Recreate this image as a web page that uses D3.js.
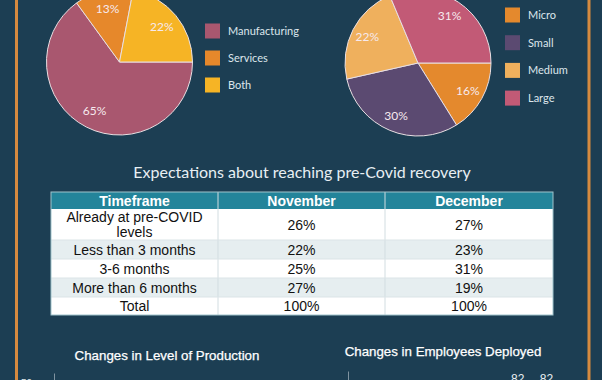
<!DOCTYPE html>
<html>
<head>
<meta charset="utf-8">
<script src="https://cdn.jsdelivr.net/npm/d3@7"></script>
<style>
html,body{margin:0;padding:0;background:#1c3e53;overflow:hidden;}
svg{display:block;}
</style>
</head>
<body>
<svg id="chart" width="602" height="380"></svg>
<script>
// ---- data ----
const sectorLabels = ["Manufacturing", "Services", "Both"];
const sectorValues = [65, 13, 22];
const sizeLabels = ["Micro", "Small", "Medium", "Large"];
const sizeValues = [16, 30, 22, 31];

const tableTitle = "Expectations about reaching pre-Covid recovery";
const tableHeader = ["Timeframe", "November", "December"];
const timeframes = ["Already at pre-COVID levels", "Less than 3 months", "3-6 months", "More than 6 months", "Total"];
const novemberShares = ["26%", "22%", "25%", "27%", "100%"];
const decemberShares = ["27%", "23%", "31%", "19%", "100%"];

const productionCategories = ["Increased", "Same", "Decreased"];
const productionNov = [30, 45, 25];
const productionDec = [32, 44, 24];
const yTickValues = [0, 10, 20, 30, 40, 50];

const employeeCategories = ["Increased", "Same", "Decreased"];
const employeeNov = [9, 9, 82];
const employeeDec = [8, 10, 82];

// ---- drawing ----
const svg = d3.select("#chart");
const BG = "#1c3e53";
svg.append("rect").attr("width", 602).attr("height", 380).attr("fill", BG);

// orange frame
svg.append("rect").attr("x", 16.5).attr("y", -20).attr("width", 572.5).attr("height", 440)
  .attr("fill", "none").attr("stroke", "#d68a3f").attr("stroke-width", 3);

function drawPie(cx, cy, r, labels, values, colors, labelR) {
  const g = svg.append("g").attr("transform", `translate(${cx},${cy})`);
  const pie = d3.pie().sort(null).value(d => d).startAngle(Math.PI / 2).endAngle(Math.PI / 2 + 2 * Math.PI);
  const arcs = pie(values);
  const arc = d3.arc().innerRadius(0).outerRadius(r);
  const lab = d3.arc().innerRadius(labelR).outerRadius(labelR);
  g.selectAll("path").data(arcs).join("path")
    .attr("d", arc).attr("fill", (d, i) => colors[i])
    .attr("stroke", "#e9dfe3").attr("stroke-width", 1);
  g.selectAll("text").data(arcs).join("text")
    .attr("transform", d => `translate(${lab.centroid(d)})`)
    .attr("text-anchor", "middle").attr("dy", "0.35em")
    .attr("font-family", "Lato, sans-serif").attr("font-size", 12)
    .attr("fill", "#f6e9ee")
    .text(d => d.data + "%");
}

function drawLegend(x, y0, step, labels, colors) {
  const g = svg.append("g");
  labels.forEach((l, i) => {
    const y = y0 + i * step;
    g.append("rect").attr("x", x).attr("y", y - 7.5).attr("width", 15).attr("height", 15).attr("fill", colors[i]);
    g.append("text").attr("x", x + 23).attr("y", y).attr("dy", "0.35em")
      .attr("font-family", "Lato, sans-serif").attr("font-size", 11).attr("fill", "#dde6ec").text(l);
  });
}

const sectorColors = ["#a9576f", "#e6882b", "#f6b425"];
const sizeColors = ["#e4892d", "#5b4a71", "#efb05d", "#c25a76"];
drawPie(119.5, 62, 73, sectorLabels, sectorValues, sectorColors, 55);
drawLegend(205, 31, 27, sectorLabels, sectorColors);
drawPie(418, 63, 73, sizeLabels, sizeValues, sizeColors, 57);
drawLegend(505, 15, 27.7, sizeLabels, sizeColors);

// table title
svg.append("text").attr("x", 302).attr("y", 178).attr("text-anchor", "middle")
  .attr("font-family", "Lato, sans-serif").attr("font-size", 16).attr("fill", "#e8eff3").text(tableTitle);

// table
const colEdges = [51, 218, 385, 553];
const rowEdges = [192, 209, 240, 259, 278, 297, 315];
const tg = svg.append("g");
tg.append("rect").attr("x", colEdges[0]).attr("y", rowEdges[0]).attr("width", colEdges[3] - colEdges[0])
  .attr("height", rowEdges[1] - rowEdges[0]).attr("fill", "#23849a");
const rows = timeframes.map((t, i) => [t, novemberShares[i], decemberShares[i]]);
rows.forEach((row, i) => {
  tg.append("rect").attr("x", colEdges[0]).attr("y", rowEdges[i + 1]).attr("width", colEdges[3] - colEdges[0])
    .attr("height", rowEdges[i + 2] - rowEdges[i + 1]).attr("fill", i % 2 === 0 ? "#ffffff" : "#e6eef0");
});
[1, 2].forEach(c => {
  tg.append("line").attr("x1", colEdges[c]).attr("x2", colEdges[c]).attr("y1", rowEdges[0]).attr("y2", rowEdges[6])
    .attr("stroke", "#d2dde1").attr("stroke-width", 1);
});
rowEdges.slice(2, 6).forEach(y => {
  tg.append("line").attr("x1", colEdges[0]).attr("x2", colEdges[3]).attr("y1", y).attr("y2", y)
    .attr("stroke", "#dbe4e7").attr("stroke-width", 1);
});
tg.append("rect").attr("x", colEdges[0]).attr("y", rowEdges[0]).attr("width", colEdges[3] - colEdges[0])
  .attr("height", rowEdges[6] - rowEdges[0]).attr("fill", "none").attr("stroke", "#9fc3cc").attr("stroke-width", 1);
tableHeader.forEach((h, c) => {
  tg.append("text").attr("x", (colEdges[c] + colEdges[c + 1]) / 2).attr("y", (rowEdges[0] + rowEdges[1]) / 2)
    .attr("dy", "0.36em").attr("text-anchor", "middle")
    .attr("font-family", "Liberation Sans, Arial, sans-serif").attr("font-weight", "bold").attr("font-size", 14)
    .attr("fill", "#ffffff").text(h);
});
rows.forEach((row, i) => {
  const yc = (rowEdges[i + 1] + rowEdges[i + 2]) / 2;
  row.forEach((v, c) => {
    const x = (colEdges[c] + colEdges[c + 1]) / 2;
    if (c === 0 && i === 0) {
      ["Already at pre-COVID", "levels"].forEach((line, k) => {
        tg.append("text").attr("x", x).attr("y", yc - 7.3 + k * 14.6).attr("dy", "0.35em")
          .attr("text-anchor", "middle")
          .attr("font-family", "Liberation Sans, Arial, sans-serif").attr("font-size", 14).attr("fill", "#111")
          .text(line);
      });
    } else {
      tg.append("text").attr("x", x).attr("y", yc).attr("dy", "0.36em").attr("text-anchor", "middle")
        .attr("font-family", "Liberation Sans, Arial, sans-serif").attr("font-size", 14).attr("fill", "#111")
        .text(v);
    }
  });
});

// bottom charts
svg.append("text").attr("x", 167).attr("y", 360).attr("text-anchor", "middle")
  .attr("font-family", "Liberation Sans, Arial, sans-serif").attr("font-size", 13.3).attr("fill", "#ffffff")
  .attr("stroke", "#ffffff").attr("stroke-width", 0.25)
  .text("Changes in Level of Production");
svg.append("text").attr("x", 443).attr("y", 356).attr("text-anchor", "middle")
  .attr("font-family", "Liberation Sans, Arial, sans-serif").attr("font-size", 13.3).attr("fill", "#ffffff")
  .attr("stroke", "#ffffff").attr("stroke-width", 0.25)
  .text("Changes in Employees Deployed");

function drawBars(x0, x1, yTop, yBottom, maxV, cats, s1, s2, showTicks) {
  const x = d3.scaleBand().domain(cats).range([x0, x1]).paddingInner(0.2).paddingOuter(0.1);
  const xs = d3.scaleBand().domain([0, 1]).range([0, x.bandwidth()]).padding(0.05);
  const y = d3.scaleLinear().domain([0, maxV]).range([yBottom, yTop]);
  const g = svg.append("g");
  const ax = g.append("g").attr("transform", `translate(${x0},0)`)
    .call(d3.axisLeft(y).tickValues(showTicks ? yTickValues : []).tickSize(0).tickPadding(22));
  ax.select(".domain").attr("stroke", "#7f93a0");
  ax.selectAll("text").attr("fill", "#dfe6ea").attr("font-size", 10).attr("font-family", "Liberation Sans, Arial, sans-serif");
  cats.forEach((c, i) => {
    [s1[i], s2[i]].forEach((v, k) => {
      g.append("rect").attr("x", x(c) + xs(k)).attr("y", y(v)).attr("width", xs.bandwidth())
        .attr("height", y(0) - y(v)).attr("fill", k === 0 ? "#e4892d" : "#c25a76");
      g.append("text").attr("x", x(c) + xs(k) + xs.bandwidth() / 2).attr("y", y(v) - 4)
        .attr("text-anchor", "middle").attr("font-family", "Liberation Sans, Arial, sans-serif")
        .attr("font-size", 12).attr("fill", "#e8eef2").text(v);
    });
  });
}
drawBars(54, 300, 373, 483, 55, productionCategories, productionNov, productionDec, true);
drawBars(348, 569, 371, 460, 100, employeeCategories, employeeNov, employeeDec, false);
</script>
</body>
</html>
